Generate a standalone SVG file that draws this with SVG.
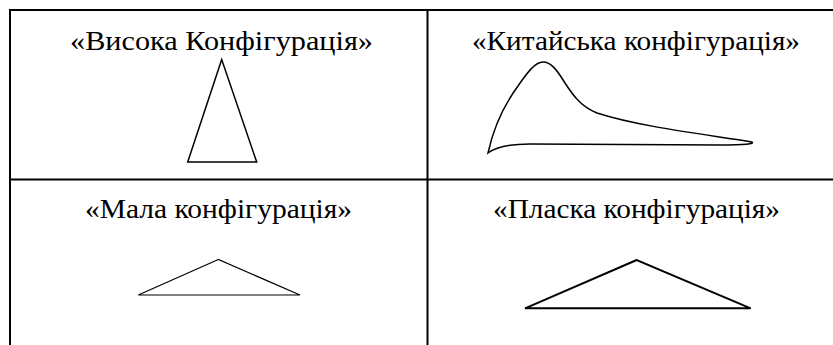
<svg xmlns="http://www.w3.org/2000/svg" width="833" height="345" viewBox="0 0 833 345">
<style>
.grid{stroke:#000;stroke-width:2;fill:none}
.lbl{font-family:'Liberation Serif','Times New Roman',serif;font-size:27px;fill:#000;text-anchor:middle}
.shape{fill:none;stroke:#000;stroke-width:1.5;stroke-linejoin:miter}
</style>
<rect width="833" height="345" fill="#fff"/>
<g id="table" class="grid">
<line x1="9" y1="10" x2="833" y2="10"/>
<line x1="10" y1="9" x2="10" y2="345"/>
<line x1="427.5" y1="10" x2="427.5" y2="345"/>
<line x1="10" y1="179.5" x2="833" y2="179.5"/>
</g>
<g id="cell-high">
<text class="lbl" x="221.5" y="50" textLength="303" lengthAdjust="spacingAndGlyphs">«Висока Конфігурація»</text>
<polygon class="shape" points="221.7,59.5 187.7,162 256.7,162"/>
</g>
<g id="cell-chinese">
<text class="lbl" x="636" y="50" textLength="328" lengthAdjust="spacingAndGlyphs">«Китайська конфігурація»</text>
<path class="shape" d="M488,153 C493,130 504,105 518,86 C527,73 535,62 543,62 C551,62 557,70 565,83 C574,97 582,107 597,113 C640,127 710,135 752,142 C755,144 745,145 720,145 L530,144 C510,144 496,147 488,153 Z"/>
</g>
<g id="cell-small">
<text class="lbl" x="218.5" y="218" textLength="267" lengthAdjust="spacingAndGlyphs">«Мала конфігурація»</text>
<polygon class="shape" style="stroke-width:1.2" points="218.3,259.5 138.3,295 300,295"/>
</g>
<g id="cell-flat">
<text class="lbl" x="636.5" y="218" textLength="287" lengthAdjust="spacingAndGlyphs">«Пласка конфігурація»</text>
<polygon class="shape" style="stroke-width:2" points="636.7,260 525,308.3 750.7,308.3"/>
</g>
</svg>
